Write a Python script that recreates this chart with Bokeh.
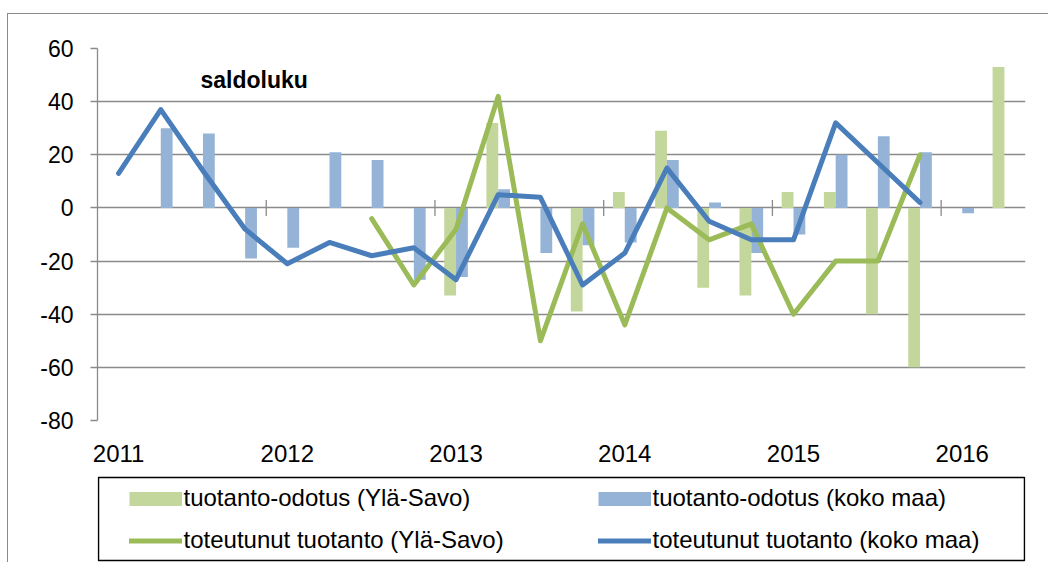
from bokeh.plotting import figure
from bokeh.layouts import column
from bokeh.models import Range1d, FixedTicker, Legend, LegendItem, Label
from bokeh.embed import file_html
from bokeh.resources import INLINE

nan = float("nan")

# quarterly categories 2011Q1 .. 2016Q2
quarters = [f"{y}Q{q}" for y in range(2011, 2017) for q in range(1, 5)][:22]
year_labels = ["2011", "2012", "2013", "2014", "2015", "2016"]
y_ticks = [-80, -60, -40, -20, 0, 20, 40, 60]

odotus_ylasavo = [nan, nan, nan, nan, nan, nan, nan, nan,
                  -33, 32, nan, -39, 6, 29, -30, -33, 6, 6, -40, -60, nan, 53]
odotus_koko = [nan, 30, 28, -19, -15, 21, 18, -27,
               -26, 7, -17, -14, -13, 18, 2, -17, -10, 20, 27, 21, -2, nan]
toteutunut_ylasavo = [nan, nan, nan, nan, nan, nan, -4, -29,
                      -8, 42, -50, -6, -44, 0, -12, -6, -40, -20, -20, 20, nan, nan]
toteutunut_koko = [13, 37, 14, -8, -21, -13, -18, -15,
                   -27, 5, 4, -29, -17, 15, -5, -12, -12, 32, 17, 2, nan, nan]

FONT = "Liberation Sans"
GRID = "#8a8a8a"
C_BAR_Y, C_BAR_K = "#C3D69B", "#95B3D7"
C_LINE_Y, C_LINE_K = "#9BBB59", "#4A7EBB"

# canvas placement on the page (outer chart border drawn with CSS)
OX, OY = 8, 14
W = 1040
FL, FR, FT, FB = 97, 1025, 48, 420   # frame edges on the page
H1 = 470 - OY                        # main chart canvas (down to the x labels)
H2 = 92                              # legend strip

n = len(quarters)
xc = [i + 0.5 for i in range(n)]

p = figure(width=W, height=H1, x_range=Range1d(0, n), y_range=Range1d(-80, 60),
           output_backend="svg", toolbar_location=None,
           min_border_left=FL - OX, min_border_right=W - (FR - OX),
           min_border_top=FT - OY, min_border_bottom=OY + H1 - FB)
p.outline_line_color = None
p.background_fill_color = "white"
p.border_fill_color = "white"

# y axis
yt = FixedTicker(ticks=y_ticks)
p.yaxis.ticker = yt
p.yaxis.major_label_overrides = {v: str(v) for v in y_ticks}
p.yaxis.major_label_text_font = FONT
p.yaxis.major_label_text_font_size = "23px"
p.yaxis.major_label_text_color = "black"
p.yaxis.major_label_standoff = 17
p.yaxis.major_tick_out = 7
p.yaxis.major_tick_in = 0
p.yaxis.minor_tick_line_color = None
p.yaxis.axis_line_color = GRID
p.yaxis.major_tick_line_color = GRID
p.yaxis.axis_line_width = 1.3
p.yaxis.major_tick_line_width = 1.3
p.ygrid.ticker = yt
p.ygrid.grid_line_color = GRID
p.ygrid.grid_line_width = 1.3
p.xgrid.visible = False

# x axis: year labels at first quarter of each year
label_pos = [xc[i] for i in range(0, n, 4)]
p.xaxis.ticker = FixedTicker(ticks=label_pos)
p.xaxis.major_label_overrides = {pos: lab for pos, lab in zip(label_pos, year_labels)}
p.xaxis.major_label_text_font = FONT
p.xaxis.major_label_text_font_size = "24px"
p.xaxis.major_label_text_color = "black"
p.xaxis.major_label_standoff = 18
p.xaxis.axis_line_color = None
p.xaxis.major_tick_line_color = None
p.xaxis.minor_tick_line_color = None

# cross tick marks on the zero line between years
bounds = list(range(4, n, 4))
p.segment(x0=bounds, y0=[-3] * len(bounds), x1=bounds, y1=[3] * len(bounds),
          line_color=GRID, line_width=1.3)

bw = 0.28
p.vbar(x=[x - bw / 2 for x in xc], top=odotus_ylasavo, bottom=0, width=bw,
       fill_color=C_BAR_Y, line_color=None)
p.vbar(x=[x + bw / 2 for x in xc], top=odotus_koko, bottom=0, width=bw,
       fill_color=C_BAR_K, line_color=None)
p.line(x=xc, y=toteutunut_ylasavo, line_color=C_LINE_Y, line_width=5,
       line_join="round", line_cap="round")
p.line(x=xc, y=toteutunut_koko, line_color=C_LINE_K, line_width=5,
       line_join="round", line_cap="round")

p.add_layout(Label(x=2.44, y=48.2, text="saldoluku", text_font=FONT,
                   text_font_style="bold", text_font_size="23px",
                   text_baseline="alphabetic", text_color="black"))

# legend strip below the chart (keys only, no data); ranges in page pixels
p2 = figure(width=W, height=H2, x_range=Range1d(FL, FR),
            y_range=Range1d(OY + H1 + H2, OY + H1),
            output_backend="svg", toolbar_location=None,
            min_border_left=FL - OX, min_border_right=W - (FR - OX),
            min_border_top=0, min_border_bottom=0)
p2.axis.visible = False
p2.grid.visible = False
p2.outline_line_color = None
p2.background_fill_color = "white"
p2.border_fill_color = "white"

# legend frame
p2.quad(left=[98], right=[1024], top=[477], bottom=[560],
        fill_color=None, line_color="black", line_width=1.5)

k1 = p2.line(x=[nan], y=[nan], line_color=C_BAR_Y, line_width=14, line_cap="butt")
k2 = p2.line(x=[nan], y=[nan], line_color=C_BAR_K, line_width=14, line_cap="butt")
k3 = p2.line(x=[nan], y=[nan], line_color=C_LINE_Y, line_width=5, line_cap="round")
k4 = p2.line(x=[nan], y=[nan], line_color=C_LINE_K, line_width=5, line_cap="round")

legend = Legend(items=[
    LegendItem(label="tuotanto-odotus (Ylä-Savo)", renderers=[k1]),
    LegendItem(label="tuotanto-odotus (koko maa)", renderers=[k2]),
    LegendItem(label="toteutunut tuotanto (Ylä-Savo)", renderers=[k3]),
    LegendItem(label="toteutunut tuotanto (koko maa)", renderers=[k4]),
], location=(31.5, 7.5), orientation="horizontal", ncols=2,
    padding=0, margin=0, spacing=13, border_line_color=None,
    background_fill_alpha=0,
    glyph_width=53, glyph_height=17, label_standoff=2, label_width=401,
    label_height=29, label_text_font=FONT, label_text_font_size="24px",
    label_text_color="black")
p2.add_layout(legend, "center")

layout = column(p, p2, spacing=0)
layout.styles = {"margin-left": "7px", "margin-top": "13px",
                 "border-left": f"1px solid {GRID}", "border-top": f"1px solid {GRID}"}

open("out.html", "w").write(file_html(layout, INLINE))
